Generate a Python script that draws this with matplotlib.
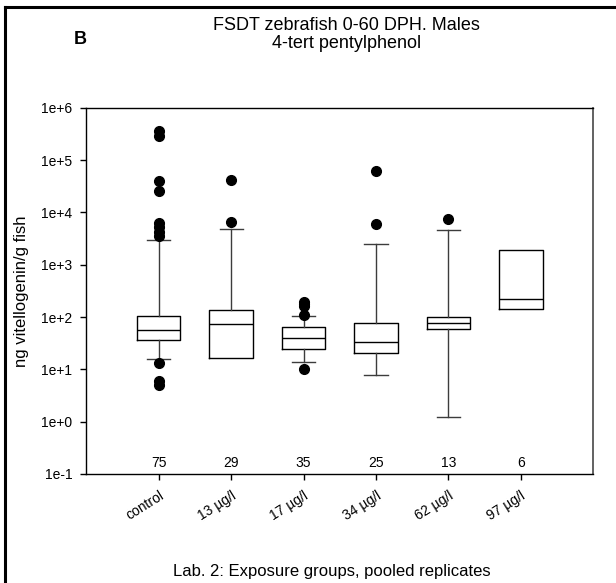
import matplotlib
matplotlib.use("Agg")
import matplotlib.pyplot as plt
from matplotlib.lines import Line2D

plt.rcParams['font.family'] = ['Liberation Sans', 'DejaVu Sans']

# exposure groups and number of fish per group
groups = ['control', '13 µg/l', '17 µg/l', '34 µg/l', '62 µg/l', '97 µg/l']
n_fish = [75, 29, 35, 25, 13, 6]

# box statistics, ng vitellogenin / g fish
q1 = [36, 16.3, 25, 21, 59, 144]
medians = [57, 75, 39, 33, 77, 224]
q3 = [106, 138, 65, 77, 100, 1900]
whisker_lo = [16, 16.3, 13.6, 7.9, 1.21, 144]
whisker_hi = [3000, 4800, 106, 2450, 4530, 1900]

# outlying fish
outliers = [
    [5.0, 6.0, 13.4, 3500, 4300, 5200, 6400, 26000, 40000, 290000, 360000],
    [6600, 42000],
    [10, 111, 165, 180, 192],
    [5900, 63000],
    [7600],
    [],
]

stats = []
for i, name in enumerate(groups):
    stats.append(dict(label=name, q1=q1[i], med=medians[i], q3=q3[i],
                      whislo=whisker_lo[i], whishi=whisker_hi[i],
                      fliers=outliers[i]))

fig = plt.figure(figsize=(6.16, 5.83), dpi=100)
ax = fig.add_axes([0.140, 0.187, 0.823, 0.628])

positions = list(range(1, len(groups) + 1))
bp = ax.bxp(stats, positions=positions, widths=0.6, capwidths=0.32,
            showfliers=True,
            boxprops=dict(color='black', linewidth=1.0),
            medianprops=dict(color='black', linewidth=1.0),
            whiskerprops=dict(color='#3c3c3c', linewidth=1.0),
            capprops=dict(color='#3c3c3c', linewidth=1.0),
            flierprops=dict(marker='o', markerfacecolor='black',
                            markeredgecolor='black', markersize=7))

# no whisker/cap where the whisker ends at the box
for i in range(len(groups)):
    if whisker_lo[i] == q1[i]:
        bp['caps'][2 * i].set_visible(False)
        bp['whiskers'][2 * i].set_visible(False)
    if whisker_hi[i] == q3[i]:
        bp['caps'][2 * i + 1].set_visible(False)
        bp['whiskers'][2 * i + 1].set_visible(False)

ax.set_yscale('log')
ax.set_ylim(0.1, 1e6)
ax.set_xlim(0, len(groups) + 1)
yt = [1e-1, 1e0, 1e1, 1e2, 1e3, 1e4, 1e5, 1e6]
ax.set_yticks(yt)
ax.set_yticklabels(['1e-1', '1e+0', '1e+1', '1e+2', '1e+3', '1e+4', '1e+5', '1e+6'])
ax.yaxis.set_minor_locator(matplotlib.ticker.NullLocator())
ax.set_xticks(positions)
ax.set_xticklabels(groups, rotation=32, ha='right', rotation_mode='anchor')
ax.tick_params(axis='both', labelsize=10, length=4.5, width=1.0, direction='out', pad=5.5)
ax.tick_params(axis='x', pad=6)

for side in ['left', 'bottom', 'top']:
    ax.spines[side].set_color('black')
    ax.spines[side].set_linewidth(1.0)
ax.spines['right'].set_color('#555555')
ax.spines['right'].set_linewidth(1.3)

# group sizes just above the x axis
for x, n in zip(positions, n_fish):
    ax.annotate(str(n), xy=(x, 0.1), xytext=(0, 3), textcoords='offset points',
                ha='center', va='bottom', fontsize=10)

ax.set_ylabel('ng vitellogenin/g fish', fontsize=12)
ax.yaxis.set_label_coords(-0.112, 0.5)

fig.text(0.562, 0.957, 'FSDT zebrafish 0-60 DPH. Males', ha='center', va='center', fontsize=13)
fig.text(0.562, 0.926, '4-tert pentylphenol', ha='center', va='center', fontsize=13)
fig.text(0.131, 0.933, 'B', ha='center', va='center', fontsize=13, fontweight='bold')
fig.text(0.539, 0.020, 'Lab. 2: Exposure groups, pooled replicates', ha='center', va='center', fontsize=12)

# panel frame
fig.add_artist(Line2D([0.008, 0.008], [0, 0.988], transform=fig.transFigure, color='black', linewidth=2.2))
fig.add_artist(Line2D([0.008, 1.0], [0.988, 0.988], transform=fig.transFigure, color='black', linewidth=2.2))

fig.savefig('out.png', dpi=100)
